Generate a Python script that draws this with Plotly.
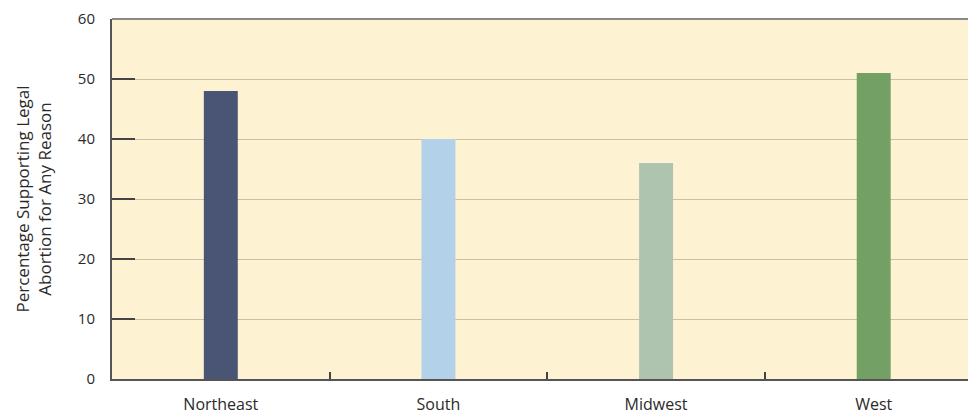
import plotly.graph_objects as go

regions = ["Northeast", "South", "Midwest", "West"]
support_pct = [48, 40, 36, 51]
bar_colors = ["#4A5475", "#B4D1EA", "#AEC4AF", "#72A065"]
y_ticks = [0, 10, 20, 30, 40, 50, 60]

fig = go.Figure()

fig.add_trace(
    go.Bar(
        x=regions,
        y=support_pct,
        marker=dict(color=bar_colors, line=dict(width=0)),
        width=0.156,
        showlegend=False,
    )
)

fig.update_layout(
    width=968,
    height=407,
    autosize=False,
    paper_bgcolor="white",
    plot_bgcolor="#FDF2D2",
    margin=dict(l=104, r=0, t=11, b=36, pad=0),
    font=dict(family="Open Sans", size=16, color="#2A2A2A"),
    xaxis=dict(
        type="category",
        range=[-0.5, 3.47],
        tickson="boundaries",
        ticks="inside",
        ticklen=7,
        tickwidth=1.5,
        tickcolor="#444444",
        showline=True,
        linecolor="#555555",
        linewidth=2,
        showgrid=False,
        ticklabelstandoff=10,
        tickfont=dict(size=16, color="#2A2A2A"),
    ),
    yaxis=dict(
        range=[0, 60],
        tickvals=y_ticks,
        ticks="inside",
        ticklen=23,
        tickwidth=1.5,
        tickcolor="#444444",
        showline=True,
        linecolor="#555555",
        linewidth=2,
        showgrid=True,
        gridcolor="#CDBFA6",
        gridwidth=1,
        zeroline=False,
        ticklabelstandoff=12,
        tickfont=dict(size=15, color="#2A2A2A"),
        title=dict(
            text="Percentage Supporting Legal<br>Abortion for Any Reason",
            font=dict(size=17, color="#2A2A2A"),
            standoff=22,
        ),
    ),
)

# soft gray top edge of the plot box
fig.add_shape(
    type="line",
    xref="paper",
    yref="paper",
    x0=0,
    x1=1,
    y0=1,
    y1=1,
    line=dict(color="#8A8A8A", width=2),
)

fig.write_html("out.html")
